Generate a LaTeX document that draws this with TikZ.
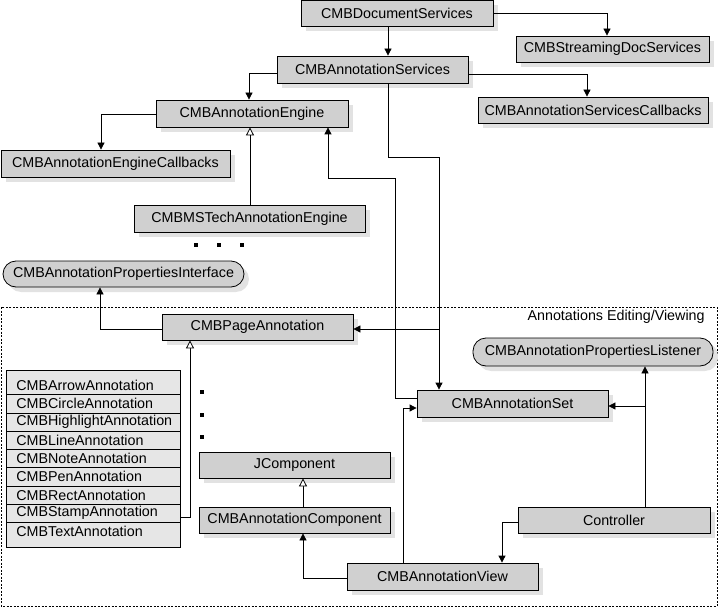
\documentclass[tikz,border=0pt]{standalone}
\usepackage{fontspec}
\setmainfont{Liberation Sans}
\usetikzlibrary{arrows.meta,shadows}
\definecolor{boxgray}{HTML}{D0D0D0}
\definecolor{shadowgray}{HTML}{E2E2E2}
\definecolor{listgray}{HTML}{E6E6E6}
\begin{document}
\begin{tikzpicture}[x=1pt,y=-1pt,
  font=\fontsize{14.3}{16}\selectfont,
  line width=0.8pt,
  box/.style={draw, fill=boxgray, inner sep=0pt, minimum width=192pt, minimum height=26pt,
    drop shadow={shadow xshift=5pt, shadow yshift=-5pt, fill=shadowgray, opacity=1}},
  rbox/.style={box, rounded corners=13pt},
  arr/.style={-{Triangle[width=7pt,length=7pt]}},
  inh/.style={-{Triangle[width=8pt,length=8pt,fill=white]}},
  rowtxt/.style={anchor=west, inner sep=0pt},
  dotsq/.style={fill=black}
]
\useasboundingbox (0,0) rectangle (718,607);

% frame
\draw[dash pattern=on 2pt off 1.5pt, line width=0.7pt] (1,307) rectangle (717,606);
\node[anchor=east, inner sep=0pt] (lbl) at (705,317) {Annotations Editing/Viewing};

% boxes
\node[box] (ds) at (397,13) {CMBDocumentServices};
\node[box, minimum width=193pt] (sd) at (612.5,49) {CMBStreamingDocServices};
\node[box, minimum width=191pt, minimum height=27pt] (as) at (372.5,69.5) {CMBAnnotationServices};
\node[box, minimum width=230pt] (sc) at (593,110) {CMBAnnotationServicesCallbacks};
\node[box, minimum height=27pt] (ae) at (252,113.5) {CMBAnnotationEngine};
\node[box, minimum width=229pt, minimum height=27pt] (ec) at (115.5,163.5) {CMBAnnotationEngineCallbacks};
\node[box, minimum width=231pt, minimum height=27pt] (mt) at (249.5,218.5) {CMBMSTechAnnotationEngine};
\node[rbox, minimum width=241pt] (pi) at (123.5,274) {CMBAnnotationPropertiesInterface};
\node[box, minimum width=191pt] (pa) at (257.5,327) {CMBPageAnnotation};
\node[rbox, minimum width=240pt, minimum height=28pt] (pl) at (593,352) {CMBAnnotationPropertiesListener};
\node[box, minimum width=191pt, minimum height=27pt] (st) at (512.5,403.5) {CMBAnnotationSet};
\node[box, minimum width=191pt] (jc) at (294.5,465) {JComponent};
\node[box, minimum width=191pt] (cp) at (294.5,520) {CMBAnnotationComponent};
\node[box] (ct) at (614,520) {Controller};
\node[box, minimum width=191pt, minimum height=27pt] (av) at (442.5,576.5) {CMBAnnotationView};

% list box
\node[draw, fill=listgray, inner sep=0pt, minimum width=174pt, minimum height=177pt] (list) at (93,458.5) {};
\foreach \yy in {394,413,431,449,467,486,504,522} \draw (6,\yy) -- (180,\yy);
\node[rowtxt] (r1) at (16,385) {CMBArrowAnnotation};
\node[rowtxt] (r2) at (16,403.5) {CMBCircleAnnotation};
\node[rowtxt] (r3) at (16,422) {CMBHighlightAnnotation};
\node[rowtxt] (r4) at (16,440) {CMBLineAnnotation};
\node[rowtxt] (r5) at (16,458) {CMBNoteAnnotation};
\node[rowtxt] (r6) at (16,476.5) {CMBPenAnnotation};
\node[rowtxt] (r7) at (16,495) {CMBRectAnnotation};
\node[rowtxt] (r8) at (16,513) {CMBStampAnnotation};
\node[rowtxt] (r9) at (16,531) {CMBTextAnnotation};

% dots
\foreach \xx in {196,219,242} \fill (\xx-2,243) rectangle (\xx+2,247);
\foreach \yy in {392,415,437} \fill (200,\yy-2) rectangle (204,\yy+2);

% junctions
\coordinate (j1) at (439,329);
\coordinate (j2) at (645,406);

% connectors
\draw[arr] (ds.south -| 388,0) -- (as.north -| 388,0);
\draw[arr] (ds.east) -| (sd.north -| 607,0);
\draw[arr] (as.east |- 0,74) -| (sc.north -| 587,0);
\draw[arr] (as.west |- 0,73) -| (ae.north -| 249,0);
\draw[arr] (ae.west |- 0,114) -| (ec.north -| 101,0);
\draw[inh] (mt.north -| 250,0) -- (ae.south -| 250,0);
\draw[arr] (pa.west |- 0,329) -| (pi.south -| 100,0);
\draw[arr] (as.south -| 388,0) -- (388,157) -| (st.north -| 439,0);
\draw[arr] (j1) -- (pa.east |- j1);
\draw[arr] (st.west |- 0,398) -- (395,398) -- (395,178) -| (ae.south -| 328,0);
\draw[inh] (list.east |- 0,517) -| (pa.south -| 190,0);
\draw[inh] (cp.north -| 303,0) -- (jc.south -| 303,0);
\draw[arr] (av.west |- 0,578) -| (cp.south -| 303,0);
\draw[arr] (ct.west |- 0,522) -| (av.north -| 502,0);
\draw[arr] (av.north -| 403,0) |- (st.west |- 0,408);
\draw[arr] (ct.north -| 645,0) -- (pl.south -| 645,0);
\draw[arr] (j2) -- (st.east |- j2);
\end{tikzpicture}
\end{document}
